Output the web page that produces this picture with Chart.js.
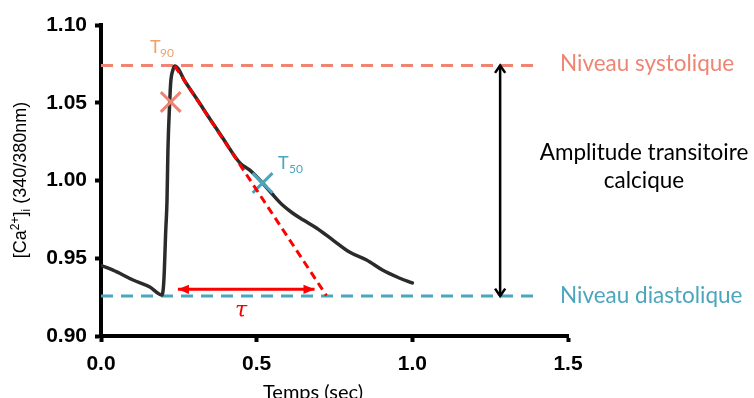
<!DOCTYPE html>
<html>
<head>
<meta charset="utf-8">
<script src="https://cdn.jsdelivr.net/npm/chart.js@4"></script>
<style>
  html, body { margin: 0; padding: 0; background: #fff; }
</style>
</head>
<body>
<canvas id="ca-chart" width="754" height="398"></canvas>
<script>
// trace
const timeSec = [0, 0.051, 0.103, 0.157, 0.196, 0.202, 0.208, 0.212, 0.215, 0.221, 0.224, 0.231, 0.237,
  0.272, 0.308, 0.35, 0.391, 0.446, 0.478, 0.519, 0.55, 0.583, 0.615, 0.65, 0.692, 0.745, 0.798, 0.853, 0.904, 0.958, 1.0];
const ratio = [0.9455, 0.9412, 0.936, 0.9315, 0.9264, 0.936, 0.968, 0.987, 1.0196, 1.0518, 1.0633, 1.0711, 1.0736,
  1.063, 1.0524, 1.0395, 1.0273, 1.0113, 1.0067, 0.9984, 0.9913, 0.9842, 0.9791, 0.9746, 0.9695, 0.9617, 0.954, 0.9489, 0.9424, 0.9373, 0.9341];

const xTicks = [0, 0.5, 1.0, 1.5];
const yTicks = [0.9, 0.95, 1.0, 1.05, 1.1];

const systolic = 1.074;
const diastolic = 0.9257;
const levelEnd = [0, 1.407];
const tangentT = [0.237, 0.724];
const tangentV = [1.0736, 0.926];
const tauT = [0.247, 0.686];
const tauV = 0.930;
const amplitudeT = 1.282;
const t90 = { x: 0.224, y: 1.0505 };
const t50 = { x: 0.519, y: 0.9984 };

const salmon = '#ef8472';
const teal = '#4ba6bd';

const pts = (xs, ys) => xs.map((t, i) => ({ x: t, y: ys[i] }));

const arrowHead = (ctx, x0, y0, x1, y1, filled) => {
  const a = Math.atan2(y1 - y0, x1 - x0);
  const len = filled ? 12 : 9;
  const w = filled ? 0.4 : 0.6;
  ctx.beginPath();
  ctx.moveTo(x1 - len * Math.cos(a - w), y1 - len * Math.sin(a - w));
  ctx.lineTo(x1, y1);
  ctx.lineTo(x1 - len * Math.cos(a + w), y1 - len * Math.sin(a + w));
  if (filled) {
    ctx.closePath();
    ctx.fill();
  } else {
    ctx.stroke();
  }
};

const annotate = {
  id: 'annotate',
  afterDatasetsDraw(chart) {
    const { ctx } = chart;
    const x = chart.scales.x;
    const y = chart.scales.y;
    ctx.save();

    // arrow heads
    ctx.fillStyle = '#ff0000';
    const ty = y.getPixelForValue(tauV);
    const tx0 = x.getPixelForValue(tauT[0]);
    const tx1 = x.getPixelForValue(tauT[1]);
    arrowHead(ctx, tx1, ty, tx0, ty, true);
    arrowHead(ctx, tx0, ty, tx1, ty, true);

    ctx.strokeStyle = '#000';
    ctx.lineWidth = 2.5;
    const ax = x.getPixelForValue(amplitudeT);
    const ay0 = y.getPixelForValue(systolic);
    const ay1 = y.getPixelForValue(diastolic);
    arrowHead(ctx, ax, ay1, ax, ay0, false);
    arrowHead(ctx, ax, ay0, ax, ay1, false);

    // texts
    ctx.textBaseline = 'alphabetic';
    ctx.textAlign = 'left';
    ctx.font = '22.5px Lato';
    ctx.fillStyle = salmon;
    ctx.fillText('Niveau systolique', 560, 71);
    ctx.fillStyle = teal;
    ctx.fillText('Niveau diastolique', 560, 303);

    ctx.fillStyle = '#000';
    ctx.textAlign = 'center';
    ctx.font = '22.5px Lato';
    ctx.fillText('Amplitude transitoire', 644, 160);
    ctx.fillText('calcique', 644, 188);
    ctx.font = '20px Lato';
    ctx.fillText('Temps (sec)', 313, 399);

    ctx.textAlign = 'left';
    ctx.font = '18px Lato';
    ctx.fillStyle = '#f0a06a';
    ctx.fillText('T', 150, 53);
    ctx.font = '12px Lato';
    ctx.fillText('90', 160, 57);
    ctx.font = '18px Lato';
    ctx.fillStyle = teal;
    ctx.fillText('T', 278, 169);
    ctx.font = '12px Lato';
    ctx.fillText('50', 289, 173);

    ctx.fillStyle = '#ff0000';
    ctx.font = 'italic 22px "DejaVu Serif"';
    ctx.fillText('\u03c4', 235, 317);

    // y title with super/subscripts
    ctx.translate(20, 180);
    ctx.rotate(-Math.PI / 2);
    ctx.fillStyle = '#000';
    const parts = [
      ['[Ca', 18, 0], ['2+', 12, -7], [']', 18, 0], ['i', 12, 4], [' (340/380nm)', 18, 0]
    ];
    let total = 0;
    parts.forEach((p) => {
      ctx.font = p[1] + 'px "Liberation Sans"';
      total += ctx.measureText(p[0]).width;
    });
    let cx = -total / 2;
    parts.forEach((p) => {
      ctx.font = p[1] + 'px "Liberation Sans"';
      ctx.fillText(p[0], cx, 6 + p[2]);
      cx += ctx.measureText(p[0]).width;
    });
    ctx.restore();
  }
};

new Chart(document.getElementById('ca-chart'), {
  type: 'line',
  data: {
    datasets: [
      {
        data: pts(tangentT, tangentV),
        borderColor: '#ff0000',
        borderWidth: 3,
        borderDash: [8, 5],
        pointRadius: 0,
      },
      {
        data: [t90],
        type: 'scatter',
        pointStyle: 'crossRot',
        pointRadius: 14,
        borderColor: salmon,
        borderWidth: 3,
      },
      {
        data: [t50],
        type: 'scatter',
        pointStyle: 'crossRot',
        pointRadius: 14,
        borderColor: teal,
        borderWidth: 3,
      },
      {
        data: pts(timeSec, ratio),
        borderColor: '#2b2b2b',
        borderWidth: 3.5,
        borderJoinStyle: 'round',
        borderCapStyle: 'round',
        cubicInterpolationMode: 'monotone',
        pointRadius: 0,
      },
      {
        data: pts(levelEnd, [systolic, systolic]),
        borderColor: salmon,
        borderWidth: 3,
        borderDash: [12, 8],
        pointRadius: 0,
      },
      {
        data: pts(levelEnd, [diastolic, diastolic]),
        borderColor: teal,
        borderWidth: 3,
        borderDash: [12, 8],
        pointRadius: 0,
      },
      {
        data: pts(tauT, [tauV, tauV]),
        borderColor: '#ff0000',
        borderWidth: 3,
        pointRadius: 0,
      },
      {
        data: pts([amplitudeT, amplitudeT], [systolic, diastolic]),
        borderColor: '#000',
        borderWidth: 2.5,
        pointRadius: 0,
      },
    ],
  },
  options: {
    responsive: false,
    animation: false,
    layout: { padding: { top: 25, right: 186, left: 0, bottom: 0 } },
    plugins: { legend: { display: false }, tooltip: { enabled: false } },
    scales: {
      x: {
        type: 'linear',
        min: 0,
        max: 1.5,
        afterFit: (s) => { s.height = 62; },
        afterBuildTicks: (s) => { s.ticks = xTicks.map((v) => ({ value: v })); },
        border: { color: '#000', width: 4 },
        grid: { drawOnChartArea: false, drawTicks: true, tickLength: 6, tickWidth: 4, tickColor: '#000' },
        ticks: {
          color: '#000',
          padding: 10,
          font: { family: 'Liberation Sans', size: 21, weight: 'bold' },
          callback: (v) => v.toFixed(1),
        },
      },
      y: {
        min: 0.9,
        max: 1.1,
        afterFit: (s) => { s.width = 101; },
        afterBuildTicks: (s) => { s.ticks = yTicks.map((v) => ({ value: v })); },
        border: { color: '#000', width: 4 },
        grid: { drawOnChartArea: false, drawTicks: true, tickLength: 6, tickWidth: 4, tickColor: '#000' },
        ticks: {
          color: '#000',
          padding: 8,
          font: { family: 'Liberation Sans', size: 21, weight: 'bold' },
          callback: (v) => v.toFixed(2),
        },
      },
    },
  },
  plugins: [annotate],
});
</script>
</body>
</html>
